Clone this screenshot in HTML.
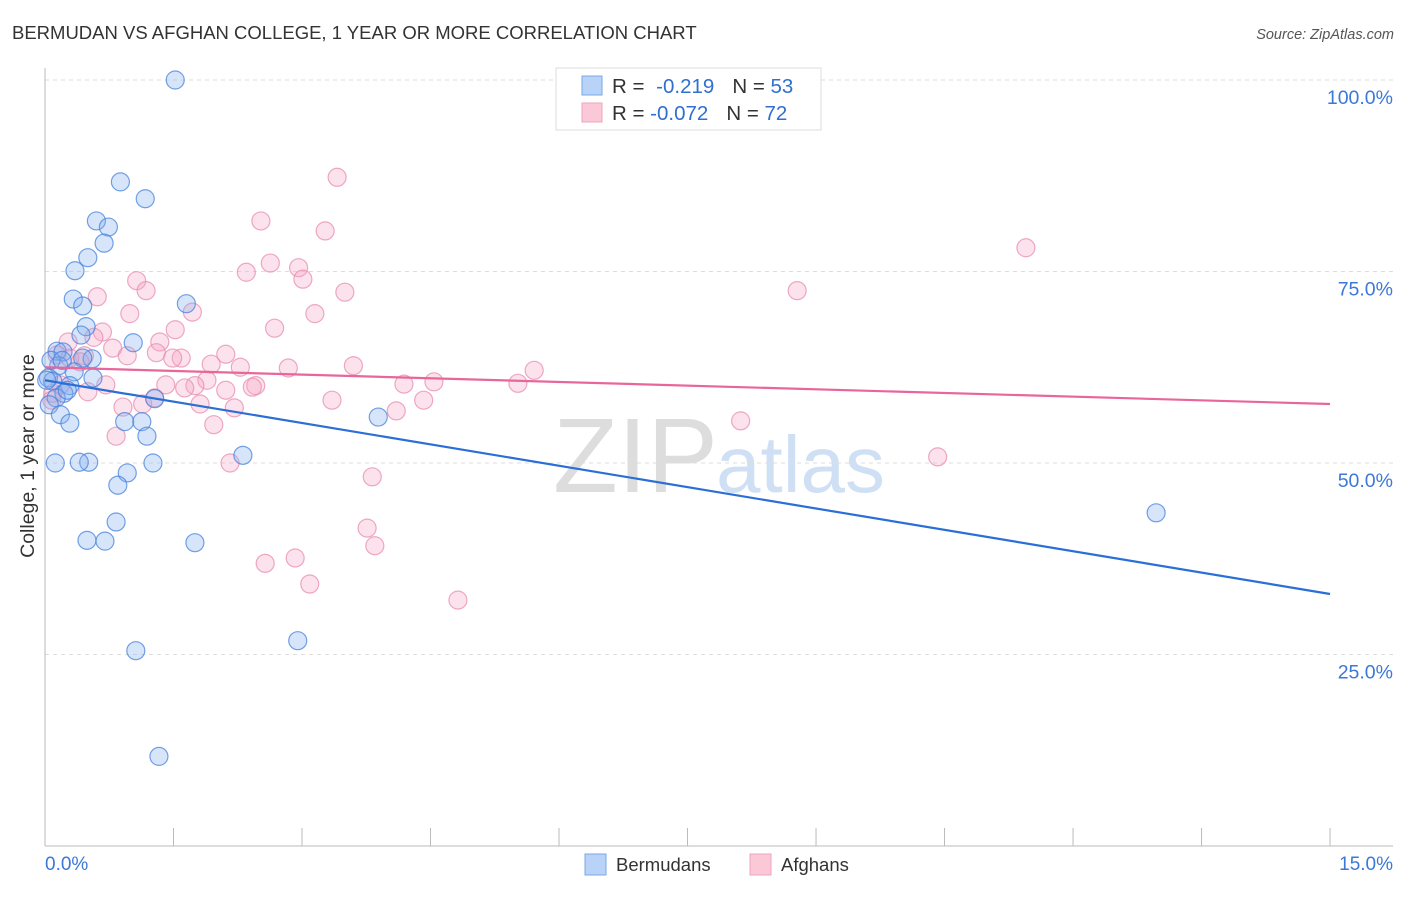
<!DOCTYPE html>
<html><head><meta charset="utf-8"><style>
body{margin:0;background:#fff;font-family:"Liberation Sans",sans-serif}
svg text{font-family:"Liberation Sans",sans-serif}
</style></head><body>
<svg id="c" width="1406" height="892" xmlns="http://www.w3.org/2000/svg">
<text x="12" y="39" font-size="18.5" fill="#333">BERMUDAN VS AFGHAN COLLEGE, 1 YEAR OR MORE CORRELATION CHART</text>
<text x="1394" y="39" font-size="14.5" fill="#555" font-style="italic" text-anchor="end">Source: ZipAtlas.com</text>
<text x="553" y="492" font-size="106" fill="#ddd" font-family="Liberation Serif">ZIP</text>
<text x="716" y="492" font-size="80" fill="#cfe0f4">atlas</text>
<g id="grid"></g><g id="axes"></g><g id="pts"></g><g id="trend"></g>
<text transform="translate(34,456) rotate(-90)" font-size="19.5" fill="#333" text-anchor="middle">College, 1 year or more</text>
<g>
<rect x="556" y="68" width="265" height="62" fill="#fff" stroke="#ddd"/>
<rect x="582" y="76" width="20" height="19" fill="#b8d3f7" stroke="#7aa8e6"/>
<rect x="582" y="103" width="20" height="19" fill="#fbc8d8" stroke="#eea5bf"/>
<text x="612" y="93" font-size="20.5" fill="#333">R = <tspan fill="#2f6fd0" dx="6">-0.219</tspan><tspan dx="18" fill="#333">N = </tspan><tspan fill="#2f6fd0">53</tspan></text>
<text x="612" y="120" font-size="20.5" fill="#333">R = <tspan fill="#2f6fd0">-0.072</tspan><tspan dx="18" fill="#333">N = </tspan><tspan fill="#2f6fd0">72</tspan></text>
</g>
<g>
<rect x="585" y="854" width="21" height="21" fill="#b8d3f7" stroke="#7aa8e6"/>
<text x="616" y="871" font-size="18.5" fill="#333">Bermudans</text>
<rect x="750" y="854" width="21" height="21" fill="#fbc8d8" stroke="#eea5bf"/>
<text x="781" y="871" font-size="18.5" fill="#333">Afghans</text>
</g>
</svg>
<script>
const blueX=[1.52,0.88,1.17,0.60,0.74,0.69,0.50,0.35,0.33,1.65,0.44,0.48,0.42,1.03,0.14,0.21,0.55,0.44,0.16,0.34,0.04,0.56,0.09,0.29,0.22,1.28,0.13,0.05,0.18,3.89,0.29,0.93,1.13,1.19,0.12,0.51,0.40,1.26,2.31,0.96,0.85,0.83,0.49,0.70,1.75,2.95,1.06,1.33,12.97,0.26,0.07,0.02,0.20];
const blueY=[100.0,86.7,84.5,81.6,80.8,78.7,76.8,75.1,71.4,70.8,70.5,67.8,66.7,65.7,64.6,64.5,63.6,63.7,62.7,61.9,61.1,61.1,60.7,60.1,59.1,58.4,58.5,57.6,56.3,56.0,55.2,55.4,55.4,53.5,50.0,50.1,50.1,50.0,51.0,48.7,47.1,42.3,39.9,39.8,39.6,26.8,25.5,11.7,43.5,59.5,63.4,60.8,63.4];
const pinkX=[3.41,2.52,3.27,11.45,2.63,2.96,2.35,3.01,1.07,1.18,3.50,0.61,8.78,1.72,3.15,0.99,2.68,1.52,0.67,1.34,0.57,0.27,0.79,0.14,2.11,1.30,0.96,0.46,1.59,1.49,1.94,2.84,3.60,2.28,5.71,1.89,4.19,4.54,5.52,0.71,1.41,1.75,1.63,2.46,2.42,2.11,0.09,1.28,4.42,3.35,1.14,1.81,0.91,4.10,2.21,8.12,1.97,0.83,2.16,10.42,3.82,3.76,3.85,2.57,2.92,3.09,4.82,0.29,0.41,0.18,0.08,0.50];
const pinkY=[87.3,81.6,80.3,78.1,76.1,75.5,74.9,74.0,73.8,72.5,72.3,71.7,72.5,69.7,69.5,69.5,67.6,67.4,67.1,65.8,66.4,65.8,65.0,64.1,64.2,64.4,64.0,64.0,63.7,63.7,62.9,62.4,62.7,62.5,62.1,60.8,60.3,60.6,60.4,60.2,60.2,60.1,59.8,60.1,59.9,59.5,59.1,58.5,58.2,58.2,57.7,57.7,57.3,56.8,57.2,55.5,55.0,53.5,50.0,50.8,48.2,41.5,39.2,36.9,37.6,34.2,32.1,63.7,63.2,60.2,58.2,59.3];
const trendX=[0,15];
const blueTrendY=[60.8,32.9];
const pinkTrendY=[62.5,57.7];
const yTicks=[25,50,75,100];
const yTickLabels=["25.0%","50.0%","75.0%","100.0%"];
const xTicks=[0,1.5,3,4.5,6,7.5,9,10.5,12,13.5,15];
const NS="http://www.w3.org/2000/svg";
const X=v=>45+v*85.67, Y=v=>846-v*7.66;
function mk(tag,attrs,parent){const e=document.createElementNS(NS,tag);for(const k in attrs)e.setAttribute(k,attrs[k]);document.getElementById(parent).appendChild(e);return e;}
yTicks.forEach((t,i)=>{
  const g=mk('line',{x1:45,x2:1393,y1:Y(t),y2:Y(t),stroke:'#ddd','stroke-dasharray':'4,4'},'grid');
  
  
  const l=mk('text',{x:1393,y:Y(t)+24,'font-size':19.5,fill:'#3b78d8','text-anchor':'end'},'grid');
  l.textContent=yTickLabels[i];
  
  
});
const ya=mk('line',{x1:45,x2:45,y1:68,y2:846,stroke:'#bbb'},'axes');


const xa=mk('line',{x1:45,x2:1393,y1:846,y2:846,stroke:'#bbb'},'axes');


xTicks.forEach(t=>{
  const k=mk('line',{x1:X(t),x2:X(t),y1:828,y2:846,stroke:'#bbb'},'axes');
  
  
});
const x0=mk('text',{x:45,y:870,'font-size':19,fill:'#3b78d8'},'axes');x0.textContent="0.0%";


const x1=mk('text',{x:1393,y:870,'font-size':19,fill:'#3b78d8','text-anchor':'end'},'axes');x1.textContent="15.0%";


pinkX.forEach((v,i)=>{
  const c=mk('circle',{cx:X(v),cy:Y(pinkY[i]),r:9,fill:'rgba(246,165,195,0.32)',stroke:'rgba(232,140,175,0.75)','stroke-width':1.2},'pts');
  
  
});
blueX.forEach((v,i)=>{
  const c=mk('circle',{cx:X(v),cy:Y(blueY[i]),r:9,fill:'rgba(130,175,240,0.32)',stroke:'rgba(70,130,220,0.75)','stroke-width':1.2},'pts');
  
  
});
const bt=mk('line',{x1:X(trendX[0]),y1:Y(blueTrendY[0]),x2:X(trendX[1]),y2:Y(blueTrendY[1]),stroke:'#2a6fd6','stroke-width':2.2},'trend');


const pt=mk('line',{x1:X(trendX[0]),y1:Y(pinkTrendY[0]),x2:X(trendX[1]),y2:Y(pinkTrendY[1]),stroke:'#e8669a','stroke-width':2.2},'trend');


</script>
</body></html>
